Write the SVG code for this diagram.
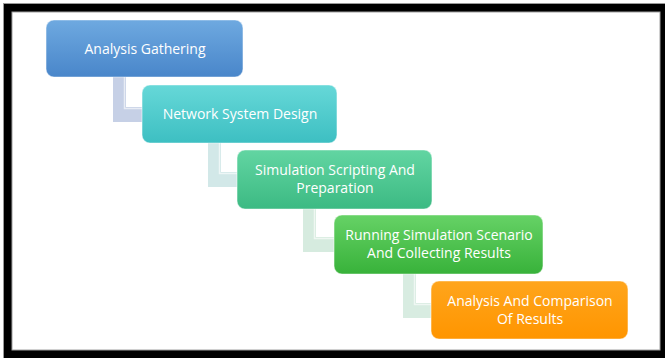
<svg xmlns="http://www.w3.org/2000/svg" width="665" height="358" viewBox="0 0 665 358">
<defs>
<linearGradient id="g1" x1="0" y1="0" x2="0" y2="1"><stop offset="0" stop-color="#6ea9e0"/><stop offset="1" stop-color="#4986ca"/></linearGradient>
<linearGradient id="g2" x1="0" y1="0" x2="0" y2="1"><stop offset="0" stop-color="#66d8d8"/><stop offset="1" stop-color="#3dbfc2"/></linearGradient>
<linearGradient id="g3" x1="0" y1="0" x2="0" y2="1"><stop offset="0" stop-color="#62d5a2"/><stop offset="1" stop-color="#3cba83"/></linearGradient>
<linearGradient id="g4" x1="0" y1="0" x2="0" y2="1"><stop offset="0" stop-color="#66d266"/><stop offset="1" stop-color="#38b23a"/></linearGradient>
<linearGradient id="g5" x1="0" y1="0" x2="0" y2="1"><stop offset="0" stop-color="#ffa51c"/><stop offset="1" stop-color="#ff9500"/></linearGradient>
</defs>
<style>
.box{stroke:#ffffff;stroke-opacity:0.45;stroke-width:1.2}
.t{font-family:"Open Sans","Liberation Sans",sans-serif;font-size:14px;fill:#ffffff;text-anchor:middle}
.hl{fill:none;stroke:#ffffff;stroke-opacity:0.6;stroke-width:1.5}
</style>
<rect width="665" height="358" fill="#ffffff"/>
<rect x="3.5" y="3.5" width="662" height="355" fill="#000000" stroke="#9a9a9a" stroke-width="1"/>
<rect x="12" y="12" width="648" height="338" fill="#ffffff" stroke="#a0a0a0" stroke-width="1"/>

<g id="connectors">
<path d="M113,76 H126 V107 H143 V122 H113 Z" fill="#c6d0e6"/>
<path d="M124.5,77 V108.5 H142" class="hl"/>
<path d="M208,142 H221 V172 H238 V187 H208 Z" fill="#d2e8e8"/>
<path d="M219.5,143 V173.5 H237" class="hl"/>
<path d="M303,208 H316 V237 H335 V252 H303 Z" fill="#d6ebdf"/>
<path d="M314.5,209 V238.5 H334" class="hl"/>
<path d="M403,273 H416 V303 H432 V318 H403 Z" fill="#d8ece1"/>
<path d="M414.5,274 V304.5 H431" class="hl"/>
</g>

<g id="node1">
<rect x="46" y="20" width="197" height="57" rx="8" fill="url(#g1)" class="box"/>
<text x="145" y="53.5" class="t">Analysis Gathering</text>
</g>
<g id="node2">
<rect x="142" y="85" width="195" height="58" rx="8" fill="url(#g2)" class="box"/>
<text x="240" y="118.5" class="t">Network System Design</text>
</g>
<g id="node3">
<rect x="237" y="150" width="195" height="59" rx="8" fill="url(#g3)" class="box"/>
<text x="335" y="175" class="t">Simulation Scripting And</text>
<text x="335" y="193" class="t">Preparation</text>
</g>
<g id="node4">
<rect x="334" y="215" width="209" height="59" rx="8" fill="url(#g4)" class="box"/>
<text x="439" y="240" class="t">Running Simulation Scenario</text>
<text x="439" y="258" class="t">And Collecting Results</text>
</g>
<g id="node5">
<rect x="431" y="281" width="197" height="58" rx="8" fill="url(#g5)" class="box"/>
<text x="530" y="306" class="t">Analysis And Comparison</text>
<text x="530" y="323.5" class="t">Of Results</text>
</g>
</svg>
